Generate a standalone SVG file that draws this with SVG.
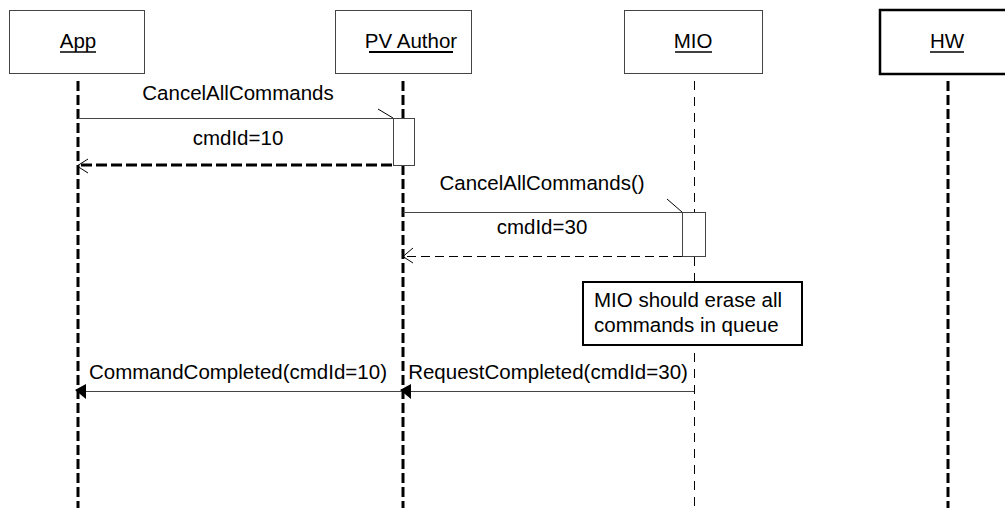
<svg xmlns="http://www.w3.org/2000/svg" width="1005" height="508" viewBox="0 0 1005 508">
<style>
text{font-family:"Liberation Sans",Arial,sans-serif;font-size:20.5px;fill:#000}
.box{fill:#fff;stroke:#444;stroke-width:1}
.hbox{fill:#fff;stroke:#000;stroke-width:2.5}
.ul{stroke:#000;stroke-width:1.5}
.life{stroke:#000;stroke-width:3;stroke-dasharray:10 4;fill:none}
.lifethin{stroke:#000;stroke-width:1;stroke-dasharray:9 7;fill:none}
.msg{stroke:#444;stroke-width:1;fill:none}
.ret{stroke:#000;stroke-width:3;stroke-dasharray:11 4;fill:none}
.retthin{stroke:#000;stroke-width:1;stroke-dasharray:9 5;fill:none}
.act{fill:#fff;stroke:#444;stroke-width:1}
.head{stroke:#000;stroke-width:1;fill:none}
.fill{fill:#000;stroke:none}
</style>
<g id="lifelines">
<line class="life" x1="78" y1="81" x2="78" y2="508"/>
<line class="life" x1="403" y1="81" x2="403" y2="508"/>
<line class="lifethin" x1="694.5" y1="81" x2="694.5" y2="508"/>
<line class="life" x1="948" y1="81" x2="948" y2="508"/>
</g>
<g id="app">
<rect class="box" x="9.5" y="10.5" width="135" height="63"/>
<text x="78" y="48" text-anchor="middle">App</text>
<line class="ul" x1="60" y1="52" x2="96" y2="52"/>
</g>
<g id="pvauthor">
<rect class="box" x="335.5" y="10.5" width="136" height="63"/>
<text x="411" y="48" text-anchor="middle">PV Author</text>
<line class="ul" x1="369" y1="52" x2="453" y2="52" style="stroke-width:2"/>
</g>
<g id="mio">
<rect class="box" x="624.5" y="10.5" width="138" height="63"/>
<text x="693" y="48" text-anchor="middle">MIO</text>
<line class="ul" x1="675" y1="52" x2="712" y2="52"/>
</g>
<g id="hw">
<rect class="hbox" x="880" y="10" width="135" height="64"/>
<text x="947" y="48" text-anchor="middle">HW</text>
<line class="ul" x1="930" y1="52" x2="964" y2="52"/>
</g>
<g id="activations">
<rect class="act" x="393.5" y="118.5" width="21" height="47"/>
<rect class="act" x="682.5" y="212.5" width="23" height="44"/>
</g>
<g id="connectors">
<line class="msg" x1="78" y1="118.5" x2="393" y2="118.5"/>
<line class="head" x1="378" y1="109" x2="393" y2="118"/>
<line class="ret" x1="392" y1="165" x2="80" y2="165"/>
<polyline class="head" points="88,159 77,166 88,173"/>
<line class="msg" x1="403" y1="212.5" x2="682" y2="212.5"/>
<line class="head" x1="667" y1="199" x2="682" y2="212"/>
<line class="retthin" x1="682" y1="256.5" x2="404" y2="256.5"/>
<polyline class="head" points="413,248 403,256.5 413,263"/>
<line class="msg" x1="403" y1="391.5" x2="80" y2="391.5"/>
<polygon class="fill" points="75,390 86,384 86,399"/>
<line class="msg" x1="694" y1="391.5" x2="405" y2="391.5"/>
<polygon class="fill" points="400,390 411,384 411,399"/>
</g>
<g id="labels">
<text x="238" y="100" text-anchor="middle">CancelAllCommands</text>
<text x="238" y="145" text-anchor="middle">cmdId=10</text>
<text x="542" y="190" text-anchor="middle">CancelAllCommands()</text>
<text x="542" y="234" text-anchor="middle">cmdId=30</text>
<text x="238" y="379" text-anchor="middle">CommandCompleted(cmdId=10)</text>
<text x="548" y="379" text-anchor="middle">RequestCompleted(cmdId=30)</text>
</g>
<g id="note">
<rect x="583" y="282" width="219" height="63" fill="#fff" stroke="#000" stroke-width="2"/>
<text x="594" y="307">MIO should erase all</text>
<text x="594" y="332">commands in queue</text>
</g>
</svg>
